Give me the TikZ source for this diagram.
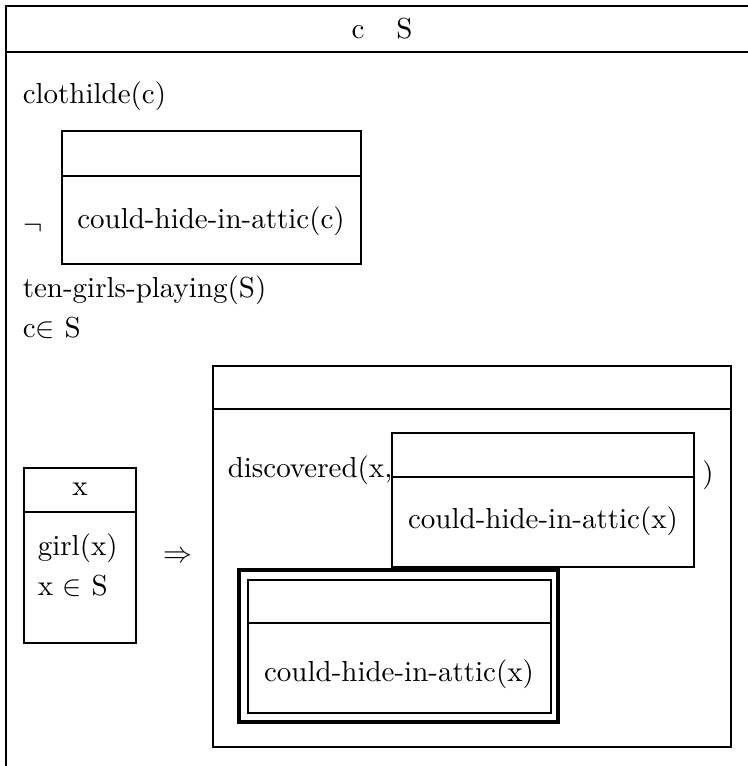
\documentclass[tikz,border=0pt]{standalone}
\usepackage{amssymb}
\usetikzlibrary{positioning}

\begin{document}
\begin{tikzpicture}[x=0.345pt, y=-0.345pt, line width=0.55pt,
  txt/.style={inner sep=0pt},
  lft/.style={inner sep=0pt, anchor=west}]
  \useasboundingbox (0,0) rectangle (747,766);

  % Outer box (runs off the page at right and bottom)
  \draw[line width=0.9pt] (6,800) -- (6,6) -- (760,6);
  \draw[line width=0.9pt] (6,52) -- (760,52);
  \node[txt] (univ) at (382,29) {c\hspace{11pt}S};

  % Conditions of the outer box
  \node[lft] (clo) at (22,96) {clothilde(c)};
  \node[txt] (neg) at (33,228) {$\neg$};

  % Negated box
  \draw (62,131) rectangle (361,264);
  \draw (62,176) -- (361,176);
  \node[txt] (hidec) at (211,221) {could-hide-in-attic(c)};

  \node[lft] (ten) at (22,290) {ten-girls-playing(S)};
  \node[lft] (cins) at (22,328) {c$\in$ S};

  % Antecedent box
  \draw (24,468) rectangle (136,643);
  \draw (24,512) -- (136,512);
  \node[txt] (xref) at (80,489) {x};
  \node[lft] (girl) at (37,548) {girl(x)};
  \node[lft] (xins) at (37,586) {x $\in$ S};

  % Implication arrow
  \node[txt] (impl) at (178,557) {$\Rightarrow$};

  % Consequent box
  \draw (213,366) rectangle (731,747);
  \draw (213,409) -- (731,409);
  \node[lft] (disc) at (227,470) {discovered(x,};
  \node[txt] (close) at (708,475) {)};

  % Box inside discovered(...)
  \draw (392,433) rectangle (694,567);
  \draw (392,477) -- (694,477);
  \node[txt] (hidex) at (543,521) {could-hide-in-attic(x)};

  % Double box
  \draw[line width=1.1pt] (239,570) rectangle (558,722);
  \draw (248,580) rectangle (551,713);
  \draw (248,623) -- (551,623);
  \node[txt] (hidey) at (399,674) {could-hide-in-attic(x)};

\end{tikzpicture}
\end{document}
